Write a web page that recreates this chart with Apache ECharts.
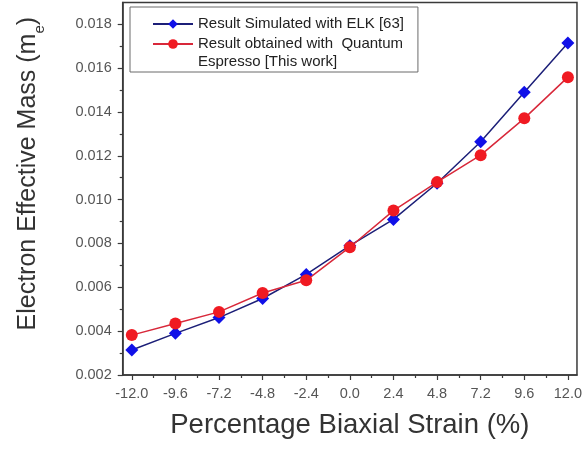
<!DOCTYPE html>
<html>
<head>
<meta charset="utf-8">
<script src="https://cdn.jsdelivr.net/npm/echarts@6/dist/echarts.min.js"></script>
<style>
  html, body { margin: 0; padding: 0; background: #ffffff; }
  #chart { width: 585px; height: 449px; }
</style>
</head>
<body>
<div id="chart"></div>
<script>
// Biaxial strain (%) at which the effective mass was computed
const strain = [-12.0, -9.6, -7.2, -4.8, -2.4, 0.0, 2.4, 4.8, 7.2, 9.6, 12.0];
// Minor tick positions, halfway between the labelled strains
const strainMinor = [-10.8, -8.4, -6.0, -3.6, -1.2, 1.2, 3.6, 6.0, 8.4, 10.8];
// Labelled effective-mass ticks and the minor ones between them
const massTicks = [0.002, 0.004, 0.006, 0.008, 0.010, 0.012, 0.014, 0.016, 0.018];
const massMinor = [0.003, 0.005, 0.007, 0.009, 0.011, 0.013, 0.015, 0.017];
// Electron effective mass (m_e) from ELK
const elkMass = [0.00314, 0.00390, 0.00462, 0.00549, 0.00659, 0.00790, 0.00910, 0.01075, 0.01264, 0.01490, 0.01715];
// Electron effective mass (m_e) from Quantum Espresso
const qeMass = [0.00382, 0.00435, 0.00488, 0.00574, 0.00632, 0.00783, 0.00950, 0.01080, 0.01203, 0.01371, 0.01559];
// Series names shown in the legend
const elkName = 'Result Simulated with ELK [63]';
const qeName = 'Result obtained with  Quantum\nEspresso [This work]';

const pairs = (xs, ys) => xs.map((x, i) => [x, ys[i]]);

const chart = echarts.init(document.getElementById('chart'));
const fontFamily = 'Arial, "Liberation Sans", Helvetica, sans-serif';
const axisColor = '#3a3a3a';

// Hidden axis that only carries the short minor ticks
const minorAxis = (extra) => Object.assign({
  type: 'value',
  axisLine: { show: false, onZero: false },
  axisLabel: { show: false },
  splitLine: { show: false }
}, extra);

chart.setOption({
  animation: false,
  backgroundColor: '#ffffff',
  textStyle: { fontFamily: fontFamily },
  grid: {
    left: 122.7, top: 2.4, right: 7.6, bottom: 74,
    show: true, borderColor: axisColor, borderWidth: 1.5,
    backgroundColor: 'transparent'
  },
  legend: {
    orient: 'vertical',
    left: 130, top: 7,
    padding: [8, 14, 1, 22],
    itemGap: -16,
    itemWidth: 40, itemHeight: 12,
    itemTextGap: 0,
    borderColor: '#6a6a6a', borderWidth: 1,
    textStyle: { fontSize: 15, color: '#222', lineHeight: 18, fontFamily: fontFamily },
    // a leading blank line keeps the first line of a two-line name level with its icon
    formatter: name => (name.indexOf('\n') >= 0 ? '\n' + name : name),
    data: [elkName, qeName]
  },
  xAxis: [
    {
      type: 'value',
      min: -12.5, max: 12.5,
      name: 'Percentage Biaxial Strain (%)',
      nameLocation: 'middle',
      nameGap: 36,
      nameTextStyle: { fontSize: 27.5, color: '#333' },
      axisLine: { show: true, onZero: false, lineStyle: { color: axisColor, width: 1.5 } },
      axisTick: { show: true, inside: false, length: 5, customValues: strain, lineStyle: { color: axisColor, width: 1.2 } },
      axisLabel: { customValues: strain, fontSize: 14.5, color: '#555', margin: 11, formatter: v => v.toFixed(1) },
      splitLine: { show: false }
    },
    minorAxis({
      min: -12.5, max: 12.5,
      position: 'bottom',
      axisTick: { show: true, inside: false, length: 3, customValues: strainMinor, lineStyle: { color: axisColor, width: 1.2 } }
    })
  ],
  yAxis: [
    {
      type: 'value',
      min: 0.002, max: 0.019,
      name: '{a|Electron Effective Mass (m}{b|e}{a|)}',
      nameLocation: 'middle',
      nameGap: 80,
      nameTextStyle: {
        padding: [0, 0, 0, 30],
        rich: {
          a: { fontSize: 25, color: '#333', fontFamily: fontFamily, lineHeight: 30 },
          b: { fontSize: 15, color: '#333', fontFamily: fontFamily, lineHeight: 30, verticalAlign: 'bottom', padding: [0, 0, -5, 0] }
        }
      },
      axisLine: { show: true, onZero: false, lineStyle: { color: axisColor, width: 1.5 } },
      axisTick: { show: true, inside: false, length: 5, customValues: massTicks, lineStyle: { color: axisColor, width: 1.2 } },
      axisLabel: { customValues: massTicks, fontSize: 14.5, color: '#555', margin: 11, formatter: v => v.toFixed(3) },
      splitLine: { show: false }
    },
    minorAxis({
      min: 0.002, max: 0.019,
      position: 'left',
      axisTick: { show: true, inside: false, length: 3, customValues: massMinor, lineStyle: { color: axisColor, width: 1.2 } }
    })
  ],
  series: [
    {
      name: elkName,
      type: 'line',
      data: pairs(strain, elkMass),
      symbol: 'diamond',
      symbolSize: 13,
      itemStyle: { color: '#1010e8' },
      lineStyle: { color: '#1c1f78', width: 1.5 }
    },
    {
      name: qeName,
      type: 'line',
      data: pairs(strain, qeMass),
      symbol: 'circle',
      symbolSize: 12,
      itemStyle: { color: '#f01a22' },
      lineStyle: { color: '#d8283a', width: 1.5 }
    }
  ]
});
</script>
</body>
</html>
